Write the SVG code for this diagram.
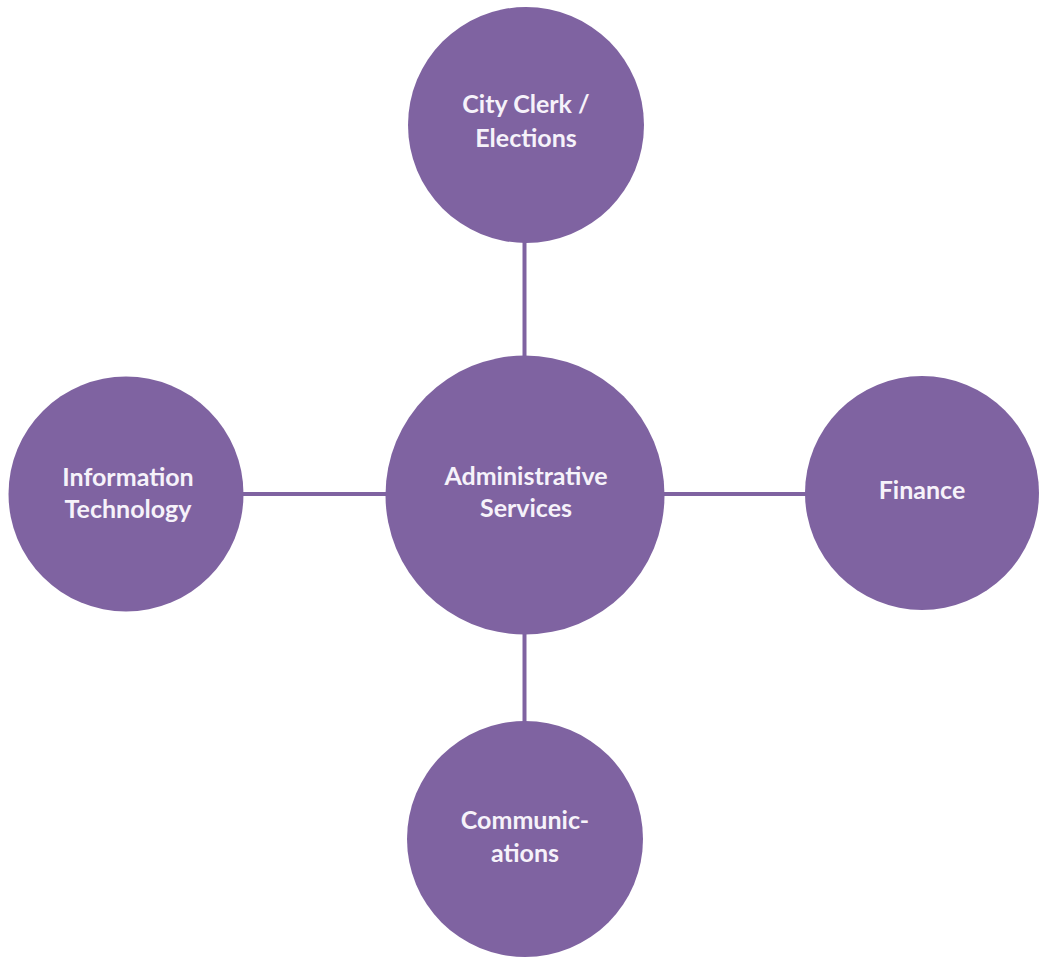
<svg xmlns="http://www.w3.org/2000/svg" width="1039" height="959" viewBox="0 0 1039 959">
  <style>
    .node { fill: #7f63a1; }
    .link { stroke: #7f63a1; stroke-width: 4; fill: none; }
    .label { fill: #f6f2fa; font-family: Lato, "Liberation Sans", sans-serif; font-weight: 700; font-size: 25px; text-anchor: middle; }
  </style>
  <rect width="1039" height="959" fill="#ffffff"/>
  <g id="connectors">
    <line class="link" x1="524.5" y1="238" x2="524.5" y2="358"/>
    <line class="link" x1="524.5" y1="632" x2="524.5" y2="726"/>
    <line class="link" x1="240" y1="494" x2="388" y2="494"/>
    <line class="link" x1="662" y1="494" x2="810" y2="494"/>
  </g>
  <g id="admin-services">
    <circle class="node" cx="525" cy="495" r="139.5"/>
    <text class="label" x="526" y="485">Administrative</text>
    <text class="label" x="526" y="517">Services</text>
  </g>
  <g id="city-clerk">
    <circle class="node" cx="526" cy="125" r="118"/>
    <text class="label" x="526" y="113">City Clerk /</text>
    <text class="label" x="526" y="147">Elections</text>
  </g>
  <g id="information-technology">
    <circle class="node" cx="126" cy="494" r="117.5"/>
    <text class="label" x="128" y="486">Information</text>
    <text class="label" x="128" y="518">Technology</text>
  </g>
  <g id="finance">
    <circle class="node" cx="922" cy="493" r="117"/>
    <text class="label" x="922" y="499">Finance</text>
  </g>
  <g id="communications">
    <circle class="node" cx="525" cy="839" r="118"/>
    <text class="label" x="525" y="829">Communic-</text>
    <text class="label" x="525" y="862">ations</text>
  </g>
</svg>
